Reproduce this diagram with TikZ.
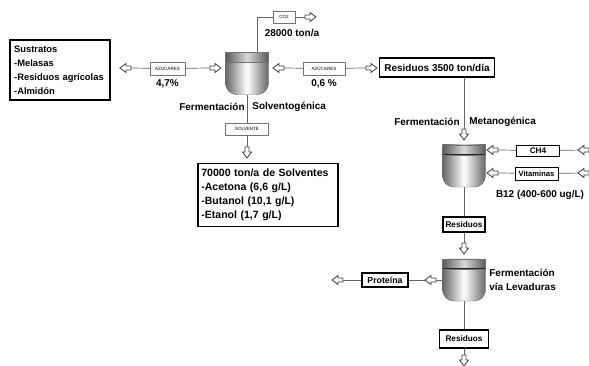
\documentclass[tikz,border=0pt]{standalone}
\usepackage{fontspec}
\setmainfont{Liberation Sans}
\usetikzlibrary{positioning}
\tikzset{
  strm/.style={draw=black!60,line width=0.6pt},
  tag/.style={font=\bfseries\fontsize{8.5}{12.5}\selectfont,inner sep=1pt},
  mini/.style={draw=black!55,fill=white,thin,inner sep=0pt,minimum height=3.8mm,
    font=\fontsize{3.9}{4}\selectfont},
  heavy/.style={draw=black,line width=1.5pt,fill=white,inner sep=1.5pt,
    font=\bfseries\fontsize{#1}{12}\selectfont},
  heavy/.default=7.5,
  light/.style={draw=black,line width=0.8pt,fill=white,inner sep=1pt,
    minimum width=12.9mm,font=\bfseries\fontsize{#1}{8}\selectfont},
  light/.default=7,
  % pictograms
  pics/port/.style={code={
    \draw[black!75,fill=white,line width=0.7pt] (0,-2) -- (5,-2) -- (5,-4.5) -- (11,0)
      -- (5,4.5) -- (5,2) -- (0,2) -- cycle;
  }},
  pics/tank/.style={code={
    \node[minimum width=12.9mm,minimum height=12.6mm,inner sep=0pt] (-body) at (0,0) {};
    \shade[left color=black!60,right color=black!60,middle color=white,draw=black!55,line width=0.4pt]
      (-21.5,-21) -- (21.5,-21) -- (21.5,8) .. controls (21.5,17) and (17,21) .. (9,21)
      -- (-9,21) .. controls (-17,21) and (-21.5,17) .. (-21.5,8) -- cycle;
    \shade[left color=black!65,right color=black!65,middle color=black!15]
      (-21.5,-21) rectangle (21.5,-11);
    \draw[black!85,line width=0.9pt] (-21.5,-11) -- (21.5,-11);
    \draw[black!55,line width=0.4pt] (-21.5,-21) rectangle (21.5,-11);
  }},
}

\begin{document}
\begin{tikzpicture}[x=0.3mm,y=-0.3mm]
  \useasboundingbox (0,0) rectangle (589,366);
  % tanks
  \pic (t1) at (247,73.5) {tank};
  \pic (t2) at (464,166) {tank};
  \pic (t3) at (464,280) {tank};

  \node[heavy=8,align=left,text width=2.75cm,minimum width=3cm,minimum height=1.8cm] (sus) at (60,70)
    {Sustratos\\-Melasas\\-Residuos agrícolas\\-Almidón};
  \node[mini,minimum width=10.5mm] (az1) at (167.5,68.5) {AZÚCARES};
  \node[tag,below=0.8mm of az1] (pct1) {4,7\%};
  \node[mini,minimum width=12.6mm] (az2) at (324,68.5) {AZÚCARES};
  \node[tag,below=0.8mm of az2] (pct2) {0,6 \%};
  \node[mini,minimum width=6.6mm,minimum height=3.6mm] (co2) at (284,17) {CO2};
  \node[tag] (ton) at (292,33) {28000 ton/a};
  \node[heavy=8.5,minimum width=3.45cm,minimum height=5.7mm] (res1) at (437,67.5) {Residuos 3500 ton/día};

  \node[tag,anchor=east] (fs1) at (246,107) {Fermentación};
  \node[tag,anchor=west] (fs2) at (251,107) {Solventogénica};
  \node[mini,minimum width=12.9mm,minimum height=3.6mm] (solv) at (247,129) {SOLVENTE};
  \node[heavy=9,align=left,text width=4cm,minimum width=4.2cm,minimum height=1.89cm] (prod) at (268,195)
    {70000 ton/a de Solventes\\-Acetona (6,6 g/L)\\-Butanol (10,1 g/L)\\-Etanol (1,7 g/L)};

  \node[tag,anchor=east] (fm1) at (461,122) {Fermentación};
  \node[tag,anchor=west] (fm2) at (468,122) {Metanogénica};
  \node[light,minimum height=3.3mm] (ch4) at (538,150.5) {CH4};
  \node[light=6.5,minimum height=3.9mm] (vit) at (536.5,173.5) {Vitaminas};
  \node[tag] (b12) at (540,195) {B12 (400-600 ug/L)};
  \node[heavy=7,minimum width=12.6mm,minimum height=4.5mm] (res2) at (464,224.5) {Residuos};

  \node[tag,anchor=west,align=left] (lev) at (488,280) {Fermentación\\vía Levaduras};
  \node[heavy=7.5,minimum width=13.8mm,minimum height=4.2mm] (prot) at (385,280) {Proteína};
  \node[heavy=7,minimum width=14.7mm,minimum height=5.4mm] (res3) at (464,339) {Residuos};

  \coordinate (pA) at (131,68);
  \coordinate (pB) at (210,68);
  \coordinate (pC) at (284,68);
  \coordinate (pD) at (366,68);
  \coordinate (pE) at (305,17);
  \coordinate (pF) at (247,147);
  \coordinate (pG) at (464,129);
  \coordinate (pH) at (498,150);
  \coordinate (pI) at (589,150);
  \coordinate (pJ) at (498,173);
  \coordinate (pK) at (589,173);
  \coordinate (pL) at (464,243);
  \coordinate (pM) at (343,280);
  \coordinate (pN) at (436,280);
  \coordinate (pO) at (464,355);

  \draw[strm] (pA) -- (az1) -- (pB);
  \draw[strm] (pC) -- (az2) -- (pD);
  \draw[strm] ([xshift=3mm]t1-body.north) |- (co2);
  \draw[strm] (co2) -- (pE);
  \draw[strm] (t1-body) -- (solv) -- (pF);
  \draw[strm] (res1.south -| pG) -- (pG);
  \draw[strm] (pH) -- (ch4) -- (pI);
  \draw[strm] (pJ) -- (vit) -- (pK);
  \draw[strm] (t2-body) -- (res2) -- (pL);
  \draw[strm] (t3-body) -- (prot) -- (pM);
  \draw[strm] (t3-body) -- (res3) -- (pO);

  \foreach \p/\a in {pA/180,pB/0,pC/180,pD/0,pE/0,pF/-90,pG/-90,pH/180,pI/180,
                     pJ/180,pK/180,pL/-90,pM/180,pN/180,pO/-90}
    \pic[rotate=\a] at (\p) {port};
\end{tikzpicture}
\end{document}
